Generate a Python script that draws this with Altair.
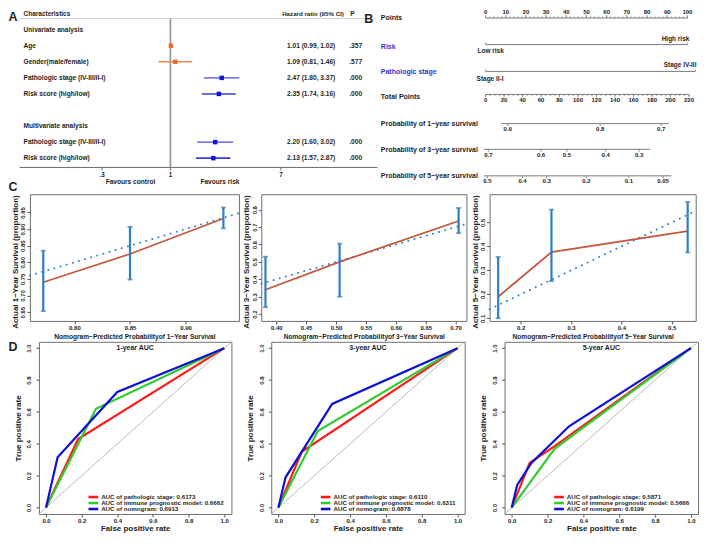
import altair as alt
import pandas as pd

SX, SY = 0.975, 0.97


def X(v):
    return round(v * SX, 2)


def Y(v):
    return round(v * SY, 2)


FONT = "Liberation Sans"
INK = "#1e1e1e"
BOLD = {"font": FONT, "fontWeight": "bold"}
ONE = pd.DataFrame({"k": [0]})

# ================= DATA =================
# Panel A: forest plot
forest_names = ["Age", "Gender(male/female)", "Pathologic stage (IV-III/II-I)",
                "Risk score (high/low)", "Pathologic stage (IV-III/II-I)", "Risk score (high/low)"]
forest_rows = [2, 3, 4, 5, 8, 9]
forest_hr = [1.01, 1.09, 2.47, 2.35, 2.20, 2.13]
forest_lo = [0.99, 0.81, 1.80, 1.74, 1.60, 1.57]
forest_hi = [1.02, 1.46, 3.37, 3.16, 3.02, 2.87]
forest_p = [".357", ".577", ".000", ".000", ".000", ".000"]
forest_kind = ["ns", "ns", "stage", "risk", "stage", "risk"]
section_names = ["Univariate analysis", "Multivariate analysis"]
section_rows = [1, 7]
hr_ticks = [0.3, 1, 7]
hr_tick_labels = [".3", "1", "7"]

# Panel B: nomogram
points_labels = [0, 10, 20, 30, 40, 50, 60, 70, 80, 90, 100]
points_minor = list(range(0, 101, 2))
total_labels = [0, 20, 40, 60, 80, 100, 120, 140, 160, 180, 200, 220]
total_minor = list(range(0, 221, 5))
total_max = 220
total_max_points = 100.8
risk_names = ["Low risk", "High risk"]
risk_points = [0, 100]
stage_names = ["Stage II-I", "Stage IV-III"]
stage_points = [0, 104]
surv1_labels = ["0.9", "0.8", "0.7"]
surv1_total = [24, 124, 190]
surv1_span = [17, 198]
surv3_labels = ["0.7", "0.6", "0.5", "0.4", "0.3"]
surv3_total = [3, 60, 88, 130, 166]
surv3_span = [-2, 178]
surv5_labels = ["0.5", "0.4", "0.3", "0.2", "0.1", "0.05"]
surv5_total = [2, 40, 66, 109, 155, 192]
surv5_span = [-2, 201]

# Panel C: calibration
cal1_pred = [0.772, 0.850, 0.934]
cal1_obs = [0.740, 0.825, 0.932]
cal1_lo = [0.653, 0.748, 0.902]
cal1_hi = [0.835, 0.907, 0.965]
cal3_pred = [0.382, 0.506, 0.705]
cal3_obs = [0.340, 0.500, 0.735]
cal3_lo = [0.240, 0.300, 0.665]
cal3_hi = [0.530, 0.605, 0.810]
cal5_pred = [0.155, 0.261, 0.532]
cal5_obs = [0.190, 0.376, 0.464]
cal5_lo = [0.100, 0.255, 0.375]
cal5_hi = [0.356, 0.554, 0.586]

# Panel D: ROC curves
roc1 = {"stage": ([0, 0.18, 1], [0, 0.43, 1]),
        "immune": ([0, 0.28, 1], [0, 0.62, 1]),
        "nomogram": ([0, 0.065, 0.40, 1], [0, 0.315, 0.725, 1])}
roc3 = {"stage": ([0, 0.13, 1], [0, 0.35, 1]),
        "immune": ([0, 0.22, 1], [0, 0.48, 1]),
        "nomogram": ([0, 0.04, 0.30, 1], [0, 0.19, 0.65, 1])}
roc5 = {"stage": ([0, 0.10, 0.24, 1], [0, 0.28, 0.385, 1]),
        "immune": ([0, 0.24, 1], [0, 0.37, 1]),
        "nomogram": ([0, 0.03, 0.11, 0.32, 1], [0, 0.14, 0.28, 0.51, 1])}
auc1 = [0.6173, 0.6662, 0.6913]
auc3 = [0.6110, 0.6311, 0.6878]
auc5 = [0.5871, 0.5666, 0.6199]
roc_ticks = [0.0, 0.2, 0.4, 0.6, 0.8, 1.0]


# ================= HELPERS =================
def text_at(txt, x, y, size=7.0, color=INK, align="left", baseline="middle"):
    return alt.Chart(ONE).mark_text(text=txt, fontSize=size, color=color, align=align,
                                    baseline=baseline, **BOLD).encode(
        x=alt.value(x), y=alt.value(y))


def rule_at(x, y, x2=None, y2=None, color="#999999", width=1.0):
    enc = {"x": alt.value(x), "y": alt.value(y)}
    if x2 is not None:
        enc["x2"] = alt.value(x2)
    if y2 is not None:
        enc["y2"] = alt.value(y2)
    return alt.Chart(ONE).mark_rule(color=color, strokeWidth=width).encode(**enc)


# ================= PANEL A =================
WA, HA = X(380), Y(163)
FA = 6.6
xA = alt.Scale(type="log", domain=[0.0573, 38.33], nice=False)
yA = alt.Scale(domain=[-0.1807, 9.639], reverse=True, nice=False, zero=False)
dfA = pd.DataFrame({"row": forest_rows, "label": forest_names, "hr": forest_hr,
                    "lo": forest_lo, "hi": forest_hi, "p": forest_p, "kind": forest_kind})
dfA["ci"] = [f"{h:.2f} ({l:.2f}, {u:.2f})" for h, l, u in zip(forest_hr, forest_lo, forest_hi)]
dfSec = pd.DataFrame({"row": section_rows, "label": section_names})
dfTick = pd.DataFrame({"v": hr_ticks, "lab": hr_tick_labels})
dfNull = pd.DataFrame({"v": [1.0]})
yRow = alt.Y("row:Q", scale=yA, axis=None)
kinds = ["ns", "stage", "risk"]


def a_text(df, x, field):
    return alt.Chart(df).mark_text(align="left", baseline="middle", fontSize=FA, color=INK,
                                   **BOLD).encode(x=alt.value(x), y=yRow, text=f"{field}:N")


panelA = alt.layer(
    rule_at(X(12), Y(8), x2=X(372), color="#d4d4d4"),
    alt.Chart(dfNull).mark_rule(color="#9c9c9c", strokeWidth=1.8).encode(
        x=alt.X("v:Q", scale=xA, axis=None), y=alt.value(Y(8)), y2=alt.value(Y(162))),
    rule_at(X(12), Y(162), x2=X(380), color="#6a6a6a"),
    alt.Chart(dfTick).mark_rule(color="#6a6a6a").encode(
        x=alt.X("v:Q", scale=xA, axis=None), y=alt.value(Y(162)), y2=alt.value(Y(165))),
    alt.Chart(dfTick).mark_text(fontSize=6.3, color=INK, baseline="middle", **BOLD).encode(
        x=alt.X("v:Q", scale=xA, axis=None), y=alt.value(Y(169.5)), text="lab:N"),
    text_at("Favours control", X(126), Y(177), size=6.6, align="center"),
    text_at("Favours risk", X(218), Y(177), size=6.6, align="center"),
    alt.Chart(dfA).mark_rule(strokeWidth=1.6).encode(
        x=alt.X("lo:Q", scale=xA, axis=None), x2=alt.X2("hi"), y=yRow,
        color=alt.Color("kind:N", scale=alt.Scale(domain=kinds, range=["#F08A50", "#7C7CEB", "#3A3AE4"]),
                        legend=None)),
    alt.Chart(dfA).mark_square(size=20, opacity=1, filled=True).encode(
        x=alt.X("hr:Q", scale=xA, axis=None), y=yRow,
        fill=alt.Fill("kind:N", scale=alt.Scale(domain=kinds, range=["#EC6B28", "#1212DD", "#1212DD"]),
                      legend=None)),
    a_text(dfA, X(16), "label"),
    a_text(dfSec, X(16), "label"),
    a_text(dfA, X(287), "ci"),
    a_text(dfA, X(351), "p"),
    text_at("Characteristics", X(16), Y(3), size=6.5),
    text_at("Hazard ratio (95% CI)", X(282), Y(3), size=6.2),
    text_at("P", X(352), Y(3), size=6.5),
    text_at("A", X(0.5), Y(6.5), size=12.5),
    text_at("C", X(0.5), Y(182.5), size=12.5),
).properties(width=WA, height=HA)

# ================= PANEL B =================
WB, HB = X(320), Y(163)
xB = alt.Scale(domain=[-53.32, 100.82], nice=False, zero=False)
TP = total_max_points / total_max
LINE = "#7a7a7a"
BLUE_TXT = "#3434d0"


def bX(f):
    return alt.X(f, type="quantitative", scale=xB, axis=None)


def span(a, b, y):
    d = pd.DataFrame({"a": [a], "b": [b]})
    return alt.Chart(d).mark_rule(color=LINE, strokeWidth=1.0).encode(x=bX("a"), x2=alt.X2("b"),
                                                                      y=alt.value(y))


def nticks(vals, y, y2):
    d = pd.DataFrame({"v": vals})
    return alt.Chart(d).mark_rule(color=LINE, strokeWidth=0.8).encode(x=bX("v"), y=alt.value(y),
                                                                     y2=alt.value(y2))


def nlabels(vals, labels, y, size=6.0, dx=0, align="center"):
    d = pd.DataFrame({"v": vals, "t": labels})
    return alt.Chart(d).mark_text(fontSize=size, color=INK, align=align, baseline="middle", dx=dx,
                                  **BOLD).encode(x=bX("v"), y=alt.value(y), text="t:N")


yP, yR, yS, yT = Y(7.5), Y(35), Y(62.7), Y(86.5)
b_layers = [
    span(0, 100, yP), nticks(points_minor, yP, yP - 1.5), nticks(points_labels, yP, yP - 3),
    nlabels(points_labels, [str(v) for v in points_labels], Y(1.5)),
    span(risk_points[0], risk_points[1], yR), nticks(risk_points, yR, yR - 2),
    nlabels([risk_points[1]], [risk_names[1]], Y(29), size=6.5, align="right", dx=2),
    nlabels([risk_points[0]], [risk_names[0]], Y(42), size=6.5, align="left", dx=-8),
    span(stage_points[0], stage_points[1], yS), nticks(stage_points, yS, yS - 2),
    nlabels([stage_points[1]], [stage_names[1]], Y(56), size=6.5, align="right", dx=1),
    nlabels([stage_points[0]], [stage_names[0]], Y(70.7), size=6.5, align="left", dx=-9),
    span(0, total_max * TP, yT),
    nticks([t * TP for t in total_minor], yT, yT + 1.5),
    nticks([t * TP for t in total_labels], yT, yT + 3),
    nlabels([t * TP for t in total_labels], [str(t) for t in total_labels], Y(92.5)),
]
for labs, tots, sp, yy in [(surv1_labels, surv1_total, surv1_span, 116.7),
                           (surv3_labels, surv3_total, surv3_span, 143.3),
                           (surv5_labels, surv5_total, surv5_span, 170.7)]:
    b_layers += [span(sp[0] * TP, sp[1] * TP, Y(yy)),
                 nticks([t * TP for t in tots], Y(yy), Y(yy) + 2.5),
                 nlabels([t * TP for t in tots], labs, Y(yy + 5.5))]

row_names = ["Points", "Risk", "Pathologic stage", "Total Points", "Probability of 1\u2212year survival",
             "Probability of 3\u2212year survival", "Probability of 5\u2212year survival"]
row_colors = [INK, BLUE_TXT, BLUE_TXT, INK, INK, INK, INK]
row_y = [8, 37, 63, 89.5, 117, 144, 171]
for nm, col, yy in zip(row_names, row_colors, row_y):
    b_layers.append(text_at(nm, X(3), Y(yy), size=7, color=col))
b_layers.append(text_at("B", X(-14), Y(9), size=12.5))
panelB = alt.layer(*b_layers).properties(width=WB, height=HB)

# ================= PANEL C =================
HC = Y(131)
RED = "#C5573F"
BAR = "#2C7DC3"
AX = dict(tickSize=3, labelFontSize=6, labelPadding=1, domain=False, grid=False,
          labelOverlap=False, labelFlush=False, labelColor=INK, tickColor="#555555")


def calib(pred, obs, lo, hi, xdom, ydom, xticks, xfmt, yticks, yfmt, year, w):
    df = pd.DataFrame({"pred": pred, "obs": obs, "lo": lo, "hi": hi})
    a0, a1 = max(xdom[0], ydom[0]), min(xdom[1], ydom[1])
    ideal = pd.DataFrame({"p": [a0, a1]})
    xs = alt.Scale(domain=xdom, nice=False, zero=False)
    ys = alt.Scale(domain=ydom, nice=False, zero=False)
    xax = alt.Axis(values=xticks, format=xfmt,
                   title=f"Nomogram\u2212Predicted Probabilityof {year}\u2212Year Survival",
                   titleFontSize=6.6, titleY=16, titleBaseline="middle", **AX)
    yax = alt.Axis(values=yticks, format=yfmt, labelAngle=270, labelAlign="center",
                   labelBaseline="bottom", title=f"Actual {year}\u2212Year Survival (proportion)",
                   titleFontSize=8, titleX=-X(15), titleY=HC / 2 + 4, titleAngle=270,
                   titleAlign="center", titleBaseline="middle", **AX)

    def ex(f):
        return alt.X(f, type="quantitative", scale=xs, axis=xax)

    def ey(f):
        return alt.Y(f, type="quantitative", scale=ys, axis=yax)

    layers = [
        alt.Chart(ideal).mark_line(color=BAR, strokeWidth=1.9, strokeDash=[0.1, 6.3],
                                   strokeCap="round").encode(x=ex("p"), y=ey("p")),
        alt.Chart(df).mark_line(color=RED, strokeWidth=1.8).encode(x=ex("pred"), y=ey("obs")),
        alt.Chart(df).mark_rule(color=BAR, strokeWidth=2.2).encode(x=ex("pred"), y=ey("lo"),
                                                                    y2=alt.Y2("hi")),
        alt.Chart(df).mark_tick(color=BAR, thickness=1.8, size=5, orient="horizontal").encode(
            x=ex("pred"), y=ey("lo")),
        alt.Chart(df).mark_tick(color=BAR, thickness=1.8, size=5, orient="horizontal").encode(
            x=ex("pred"), y=ey("hi")),
    ]
    return alt.layer(*layers).properties(width=w, height=HC,
                                         view=alt.ViewBackground(stroke="#6e6e6e", strokeWidth=1))


C1 = calib(cal1_pred, cal1_obs, cal1_lo, cal1_hi, [0.760, 0.948], [0.6235, 1.005],
           [0.80, 0.85, 0.90], ".2f", [0.65, 0.70, 0.75, 0.80, 0.85, 0.90, 0.95], ".2f", 1, X(215))
C2 = calib(cal3_pred, cal3_obs, cal3_lo, cal3_hi, [0.375, 0.718], [0.161, 0.889],
           [0.40, 0.45, 0.50, 0.55, 0.60, 0.65, 0.70], ".2f",
           [0.2, 0.3, 0.4, 0.5, 0.6, 0.7, 0.8], ".1f", 3, X(211))
C3 = calib(cal5_pred, cal5_obs, cal5_lo, cal5_hi, [0.138, 0.548], [0.089, 0.618],
           [0.2, 0.3, 0.4, 0.5], ".1f", [0.1, 0.2, 0.3, 0.4, 0.5], ".1f", 5, X(212))

# ================= PANEL D =================
HD = Y(178)
ROC_COLORS = {"stage": "#FF1A1A", "immune": "#2ECC2E", "nomogram": "#1010D0"}
LEG_NAMES = ["AUC  of pathologic stage", "AUC of immune prognostic model", "AUC of nomogram"]


def roc(curves, aucs, title, w):
    xs = alt.Scale(domain=[-0.04, 1.04], nice=False, zero=False)
    ys = alt.Scale(domain=[-0.04, 1.04], nice=False, zero=False)
    xax = alt.Axis(values=roc_ticks, format=".1f", title="False positive rate", titleFontSize=8,
                   titleY=15, titleBaseline="middle", **AX)
    yax = alt.Axis(values=roc_ticks, format=".1f", labelAngle=270, labelAlign="center",
                   labelBaseline="bottom", title="True positive rate", titleFontSize=8,
                   titleX=-X(21.5), titleY=HD / 2, titleAngle=270, titleAlign="center",
                   titleBaseline="middle", **{**AX, "labelPadding": 4})

    def ex(f):
        return alt.X(f, type="quantitative", scale=xs, axis=xax)

    def ey(f):
        return alt.Y(f, type="quantitative", scale=ys, axis=yax)

    diag = pd.DataFrame({"p": [-0.04, 1.04]})
    layers = [alt.Chart(diag).mark_line(color="#a8a8a8", strokeWidth=0.8).encode(x=ex("p"), y=ey("p"))]
    for key in ["stage", "immune", "nomogram"]:
        fpr, tpr = curves[key]
        d = pd.DataFrame({"fpr": fpr, "tpr": tpr, "i": list(range(len(fpr)))})
        layers.append(alt.Chart(d).mark_line(color=ROC_COLORS[key], strokeWidth=2.2).encode(
            x=ex("fpr"), y=ey("tpr"), order="i:Q"))
    layers.append(text_at(title, w / 2, Y(6), size=7, align="center"))
    for k, (key, nm, a) in enumerate(zip(["stage", "immune", "nomogram"], LEG_NAMES, aucs)):
        yy = HD - Y([17.5, 11.3, 5.1][k])
        layers.append(rule_at(X(51), yy, x2=X(61), color=ROC_COLORS[key], width=2.6))
        layers.append(text_at(f"{nm}: {a:.4f}", X(64), yy, size=6.2))
    return alt.layer(*layers).properties(width=w, height=HD,
                                         view=alt.ViewBackground(stroke="#6e6e6e", strokeWidth=1))


D1 = roc(roc1, auc1, "1-year AUC", X(198))
D2 = roc(roc3, auc3, "3-year AUC", X(199))
D3 = roc(roc5, auc5, "5-year AUC", X(199))


def spacer(w, h, letter=" ", ly=0.0):
    return alt.Chart(ONE).mark_text(text=letter, fontSize=12.5, color=INK, align="left",
                                    baseline="middle", **BOLD).encode(
        x=alt.value(X(0.5)), y=alt.value(ly)).properties(width=w, height=h)


row1 = alt.hconcat(panelA, panelB, spacing=0, bounds="flush")
row2 = alt.hconcat(spacer(X(22), HC), C1, spacer(X(22), HC), C2,
                   spacer(X(23), HC), C3, spacing=0, bounds="flush")
row3 = alt.hconcat(spacer(X(31), HD, "D", Y(5)), D1, spacer(X(39), HD), D2,
                   spacer(X(39), HD), D3, spacing=0, bounds="flush")

upper = alt.vconcat(row1, row2, spacing=-7)
chart = alt.vconcat(upper, row3, spacing=-6.5).properties(
    padding=0
).configure(font=FONT).configure_view(stroke=None).configure_axis(
    labelFont=FONT, titleFont=FONT, labelFontWeight="bold", titleFontWeight="bold",
    titleColor=INK)

chart.save("out.html", embed_options={"renderer": "svg", "actions": False})
